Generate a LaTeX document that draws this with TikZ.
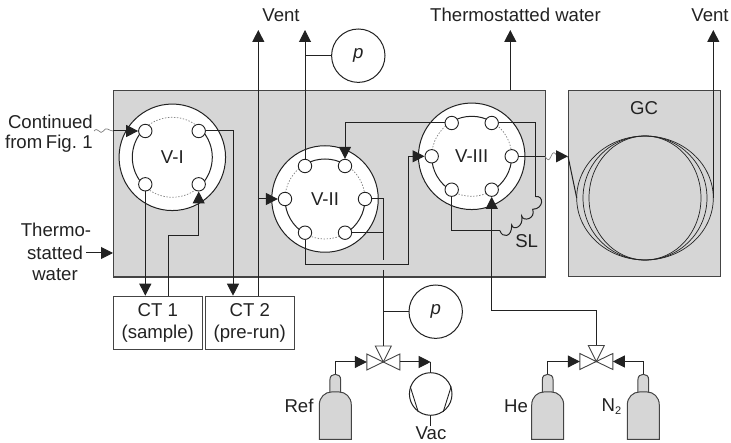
\documentclass[tikz,border=0pt]{standalone}
\usepackage{fontspec}
\setmainfont{Liberation Sans}
\usetikzlibrary{arrows.meta,calc}
\definecolor{panel}{HTML}{D6D6D6}
\definecolor{ink}{HTML}{222222}
\definecolor{edge}{HTML}{444444}
\tikzset{
  panelbox/.style={draw=edge,fill=panel,line width=1.3pt,anchor=north west,inner sep=0pt},
  ctbox/.style={draw=edge,fill=white,line width=1pt,anchor=north west,inner sep=0pt,minimum width=88.5pt,minimum height=53pt,align=center,text=ink},
  disc/.style={circle,draw=ink,fill=white,line width=1pt,minimum size=106.5pt,inner sep=0pt,text=ink},
  port/.style={circle,draw=ink,fill=white,line width=.9pt,minimum size=13.4pt,inner sep=0pt},
  gauge/.style={circle,draw=ink,fill=white,line width=1pt,minimum size=53.4pt,inner sep=0pt,font=\fontsize{18.6}{21.5}\selectfont\itshape,text=ink},
  pipe/.style={draw=ink,line width=1pt},
  flow/.style={pipe,-{Triangle[length=12pt,width=12pt]}},
  ringdot/.style={draw=gray,line width=.7pt,dash pattern=on 1.4pt off 1.6pt},
  ringsolid/.style={draw=ink,line width=1pt},
  wave/.style={draw=gray,line width=.7pt},
  lbl/.style={text=ink,inner sep=0pt},
  tube/.style={draw=ink,line width=.7pt},
  valvetri/.style={draw=edge,fill=white,line width=.9pt,line join=miter},
  bottle/.style={draw=edge,fill=panel,line width=1pt},
}
\newcommand{\sixring}[1]{%
  \draw[ringsolid] (#1) ++(240:40) arc[start angle=240,end angle=300,radius=40];
  \draw[ringsolid] (#1) ++(120:40) arc[start angle=120,end angle=180,radius=40];
  \draw[ringsolid] (#1) ++(0:40) arc[start angle=0,end angle=60,radius=40];
  \draw[ringdot] (#1) ++(180:40) arc[start angle=180,end angle=240,radius=40];
  \draw[ringdot] (#1) ++(300:40) arc[start angle=300,end angle=360,radius=40];
  \draw[ringdot] (#1) ++(60:40) arc[start angle=60,end angle=120,radius=40];
}
\newcommand{\bottleat}[2]{% name, neck-centre x
  \begin{scope}[shift={(#2,0)}]
    \draw[bottle] (-5.4,392) -- (-5.4,380) .. controls (-5.4,376) and (-3,374.3) .. (0,374.3)
      .. controls (3,374.3) and (5.4,376) .. (5.4,380) -- (5.4,392);
    \draw[bottle] (-16,439.3) -- (-16,405) .. controls (-16,397) and (-10,392) .. (-4,392)
      -- (4,392) .. controls (10,392) and (16,397) .. (16,405) -- (16,439.3) -- cycle;
    \coordinate (#1) at (0,374.3);
  \end{scope}
}
\newcommand{\valveat}[3]{% name, x, y
  \begin{scope}[shift={(#2,#3)}]
    \draw[valvetri] (0,0) -- (-8,-16) -- (8,-16) -- cycle;
    \draw[valvetri] (0,0) -- (-16.5,-8) -- (-16.5,8) -- cycle;
    \draw[valvetri] (0,0) -- (16.5,-8) -- (16.5,8) -- cycle;
    \coordinate (#1t) at (0,-16);
    \coordinate (#1l) at (-16.5,0);
    \coordinate (#1r) at (16.5,0);
  \end{scope}
}
\begin{document}
\begin{tikzpicture}[x=1pt,y=-1pt,font=\fontsize{18.6}{21.5}\selectfont]
\useasboundingbox (0,0) rectangle (731,443);
% panels
\node[panelbox,minimum width=432pt,minimum height=186.5pt] (main) at (113,90) {};
\node[panelbox,minimum width=152pt,minimum height=186pt] (gc) at (568,90) {};
\node[lbl] (gclabel) at (644,108.5) {GC};
% CT boxes
\node[ctbox] (ct1) at (113,295.7) {CT 1\\(sample)};
\node[ctbox] (ct2) at (205,295.7) {CT 2\\(pre-run)};
% valve bodies
\node[disc] (v1) at (172.3,157.3) {V-I};
\node[disc] (v2) at (325,199) {V-II};
\node[disc] (v3) at (471.7,156.3) {V-III};
% valve rings
\draw[ringsolid] (v1.center) ++(135:40) arc[start angle=135,end angle=225,radius=40];
\draw[ringsolid] (v1.center) ++(-45:40) arc[start angle=-45,end angle=45,radius=40];
\draw[ringdot] (v1.center) ++(225:40) arc[start angle=225,end angle=315,radius=40];
\draw[ringdot] (v1.center) ++(45:40) arc[start angle=45,end angle=135,radius=40];
\sixring{v2.center}
\sixring{v3.center}
% ports
\node[port] (p1a) at (145.3,131) {};
\node[port] (p1b) at (198.7,131) {};
\node[port] (p1c) at (145.3,184.3) {};
\node[port] (p1d) at (198.7,184.3) {};
\node[port] (p2l) at (285,199) {};
\node[port] (p2a) at (305,166) {};
\node[port] (p2b) at (345,166) {};
\node[port] (p2r) at (365,199) {};
\node[port] (p2c) at (345,232.7) {};
\node[port] (p2d) at (305,232.7) {};
\node[port] (p3l) at (431.7,156.3) {};
\node[port] (p3a) at (451.7,123) {};
\node[port] (p3b) at (491.7,123) {};
\node[port] (p3r) at (511.7,156.3) {};
\node[port] (p3c) at (491.7,189.7) {};
\node[port] (p3d) at (451.7,189.7) {};
% gauges
\node[gauge] (g1) at (358.3,55.7) {p};
\node[gauge] (g2) at (435.7,311.7) {p};
% GC column
\draw[tube] (645,198) ellipse[x radius=68.3,y radius=62];
\draw[tube] (645,198) ellipse[x radius=62,y radius=62];
\draw[tube] (645,198) ellipse[x radius=56,y radius=62];
\coordinate (colL) at (576.7,198);
\coordinate (colR) at (713.3,198);
% valves, bottles, pump
\valveat{va}{383.3}{362}
\valveat{vb}{596.3}{361.5}
\bottleat{ref}{335.3}
\bottleat{he}{547.7}
\bottleat{nn}{643.3}
\node[circle,draw=ink,fill=white,line width=1pt,minimum size=42.6pt,inner sep=0pt] (pump) at (430.7,394) {};
\draw[pipe,line width=.9pt] (pump.160) -- (pump.235);
\draw[pipe,line width=.9pt] (pump.20) -- (pump.305);
% free points
\coordinate (ventA) at (258.3,30);
\coordinate (ventB) at (305,30);
\coordinate (water) at (510.3,30);
\coordinate (ventC) at (713.3,30);
\coordinate (contA) at (94,131);
\coordinate (contB) at (113,131);
\coordinate (gapU) at (383.3,260);
\coordinate (gapD) at (383.3,270);
\coordinate (waveA) at (545,156.3);
\coordinate (waveB) at (557,156.3);
\coordinate (coilA) at (535.7,196.7);
\coordinate (coilB) at (500,230.7);
\coordinate (thermo) at (86,253);
% waves
\draw[wave] (contA) .. controls (98,126) and (100,136) .. (103.5,131) .. controls (106,126) and (109,131) .. (contB);
\draw[wave] (waveA) .. controls (548,161) and (549,161) .. (551,156.3) .. controls (553,151) and (555,152) .. (waveB);
% connectors
\draw[flow] (contB) -- (p1a.west);
\draw[flow] (thermo) -- (thermo -| main.west);
\draw[flow] (p1b.east) -- (233,131) -- (233,295.7);
\draw[flow] (p1c.south) -- (p1c.south |- ct1.north);
\draw[flow] (168.7,295.7) -- (168.7,235.3) -- (198.7,235.3) -- (p1d.south);
\draw[flow] (258.3,295.7) -- (ventA);
\draw[flow] (258.3,199) -- (p2l.west);
\draw[flow] (p2a.north) -- (ventB);
\draw[pipe] (305,55.7) -- (g1.west);
\draw[flow] (p3a.west) -- (345,123) -- (p2b.north);
\draw[pipe] (p2r.east) -- (383.3,199) -- (gapU);
\draw[pipe] (p2c.east) -- (383.3,232.7);
\draw[flow] (p2d.south) -- (305,265) -- (408.3,265) -- (408.3,156.3) -- (p3l.west);
\draw[pipe] (gapD) -- (vat);
\draw[pipe] (383.3,311.7) -- (g2.west);
\draw[pipe] (p3b.east) -- (535.7,123) -- (coilA);
\draw[pipe] (coilA) .. controls (544,195) and (544,209) .. (532.7,209.3)
  .. controls (536,219) and (523,222) .. (521.7,216)
  .. controls (524,227) and (513,231) .. (511.7,225)
  .. controls (512,238) and (502,238) .. (coilB);
\draw[pipe] (coilB) -- (451.7,230.7) -- (p3d.south);
\draw[flow] (vbt) -- (596.3,311) -- (491.7,311) -- (p3c.south);
\draw[pipe] (p3r.east) -- (waveA);
\draw[flow] (waveB) -- (gc.west |- waveB);
\draw[pipe] (gc.west |- waveB) -- (colL);
\draw[flow] (colR) -- (ventC);
\draw[flow] (water |- main.north) -- (water);
\draw[flow] (ref) -- (335.3,362) -- (val);
\draw[flow] (var) -- (430.7,362);
\draw[pipe] (430.7,362) -- (pump.north);
\draw[pipe] (pump.south) -- (430.7,426);
\draw[flow] (he) -- (547.7,361.5) -- (vbl);
\draw[flow] (nn) -- (643.3,361.5) -- (vbr);
% labels
\node[lbl,anchor=east] (cont1) at (93,121.5) {Continued};
\node[lbl,anchor=east] (cont2) at (93,143.5) {\spaceskip=.2em from Fig. 1};
\node[lbl] (th1) at (56,230) {Thermo-};
\node[lbl] (th2) at (55,253) {statted};
\node[lbl] (th3) at (55,275) {water};
\node[lbl] (vent1) at (281,15) {Vent};
\node[lbl,anchor=west] (therm) at (430,15) {Thermostatted water};
\node[lbl] (vent2) at (710,15) {Vent};
\node[lbl] (sl) at (526.7,241) {SL};
\node[lbl] (reflbl) at (299,406) {Ref};
\node[lbl] (vac) at (431,433.5) {Vac};
\node[lbl] (helbl) at (516,406.5) {He};
\node[lbl] (nlbl) at (611.5,407) {N\raisebox{-3pt}{\fontsize{11}{11}\selectfont 2}};
\end{tikzpicture}
\end{document}
